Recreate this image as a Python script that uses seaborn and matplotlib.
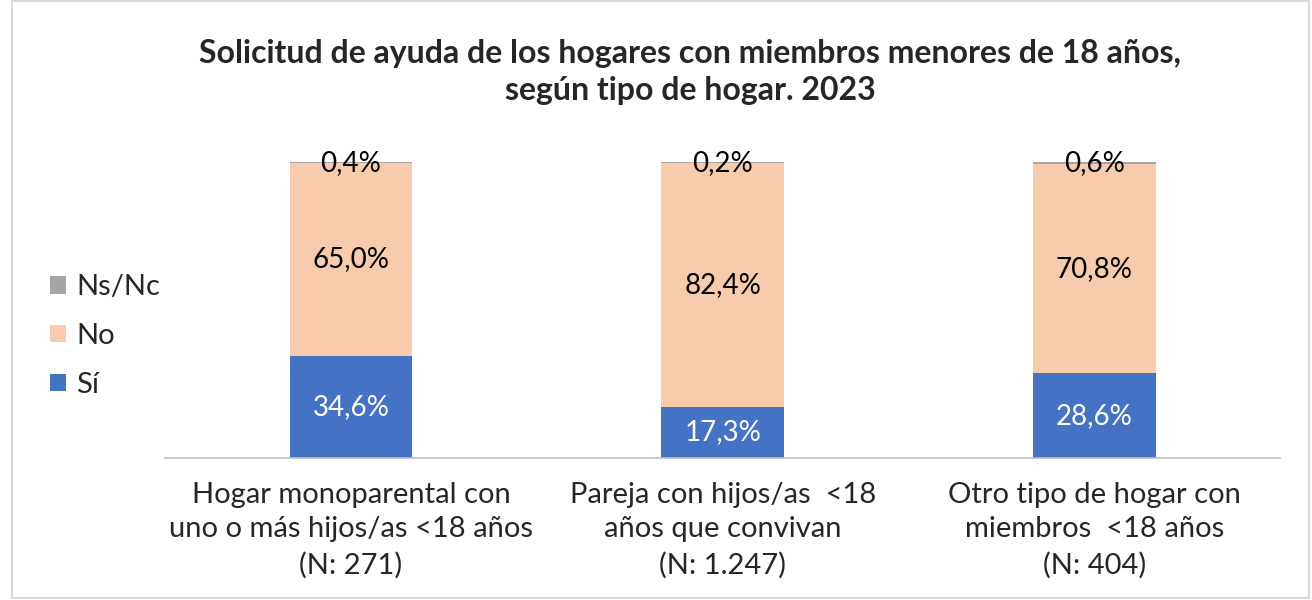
import matplotlib
matplotlib.use("Agg")
import matplotlib.pyplot as plt
import seaborn as sns
from matplotlib.patches import Rectangle

categories = [
    "Hogar monoparental con\nuno o más hijos/as <18 años\n(N: 271)",
    "Pareja con hijos/as  <18\naños que convivan\n(N: 1.247)",
    "Otro tipo de hogar con\nmiembros  <18 años\n(N: 404)",
]
si = [34.6, 17.3, 28.6]
no = [65.0, 82.4, 70.8]
nsnc = [0.4, 0.2, 0.6]

c_si, c_no, c_ns = "#4472C4", "#F8CBAD", "#A5A5A5"

sns.set_style("white")
plt.rcParams["font.family"] = ["Lato", "DejaVu Sans"]

fig = plt.figure(figsize=(13.12, 6), dpi=100)
ax = fig.add_axes([0.1258, 0.2367, 0.85, 0.4933])

x = list(range(len(categories)))
bottom_ns = [a + b for a, b in zip(si, no)]
bar_kw = dict(width=0.33, saturation=1, ax=ax, linewidth=0)
sns.barplot(x=x, y=si, color=c_si, label="Sí", **bar_kw)
sns.barplot(x=x, y=no, bottom=si, color=c_no, label="No", **bar_kw)
sns.barplot(x=x, y=nsnc, bottom=bottom_ns, color=c_ns, label="Ns/Nc", **bar_kw)

fmt = lambda v: f"{v:.1f}%".replace(".", ",")
for i in x:
    ax.text(i, si[i] / 2, fmt(si[i]), ha="center", va="center", fontsize=20, color="white")
    ax.text(i, si[i] + no[i] / 2, fmt(no[i]), ha="center", va="center", fontsize=20, color="black")
    ax.text(i, bottom_ns[i] + nsnc[i] / 2, fmt(nsnc[i]), ha="center", va="center", fontsize=20, color="black")

ax.set_xlim(-0.5, 2.5)
ax.set_ylim(0, 100)
ax.set_yticks([])
ax.set_xticks(x)
ax.set_xticklabels(categories, fontsize=21, linespacing=1.42)
ax.set_xticks([-0.5, 0.5, 1.5, 2.5], minor=True)
ax.tick_params(axis="x", which="major", length=0, pad=17)
ax.tick_params(axis="x", which="minor", length=8, color="#BFBFBF", width=1.2, direction="out")
for s in ["top", "right", "left"]:
    ax.spines[s].set_visible(False)
ax.spines["bottom"].set_color("#BFBFBF")
ax.spines["bottom"].set_linewidth(1.2)
ax.set_xlabel("")
ax.set_ylabel("")

handles, labels = ax.get_legend_handles_labels()
if ax.get_legend():
    ax.get_legend().remove()
fig.legend(handles[::-1], labels[::-1], loc="center left", bbox_to_anchor=(0.038, 0.44),
           frameon=False, fontsize=21, handlelength=0.55, handleheight=0.55,
           handletextpad=0.35, labelspacing=0.78, borderpad=0, borderaxespad=0)

fig.suptitle("Solicitud de ayuda de los hogares con miembros menores de 18 años,\nsegún tipo de hogar. 2023",
             x=0.526, y=0.935, fontsize=23, fontweight="bold", linespacing=1.34)

fig.patches.append(Rectangle((0.009, 0.003), 0.989, 0.995, transform=fig.transFigure,
                             fill=False, edgecolor="#D9D9D9", linewidth=1.5))

fig.savefig("out.png", dpi=100)
